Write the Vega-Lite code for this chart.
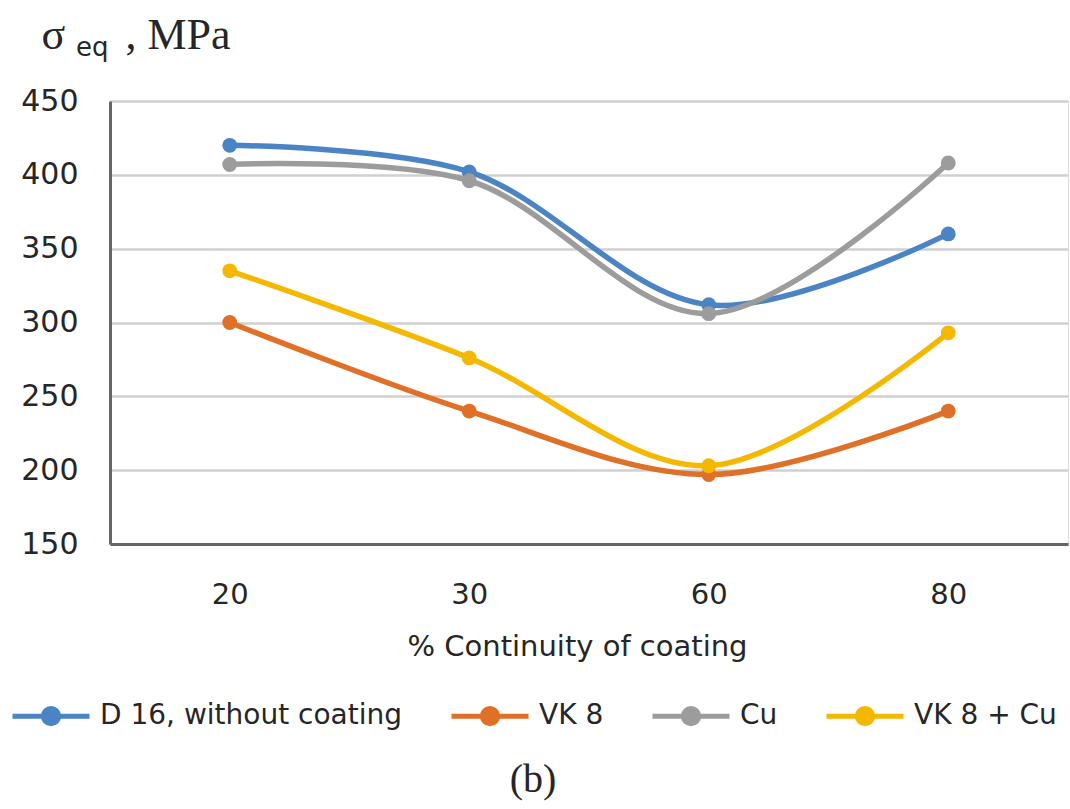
{
  "$schema": "https://vega.github.io/schema/vega-lite/v6.json",
  "width": 958,
  "height": 443,
  "autosize": "none",
  "padding": {"left": 110, "top": 101, "right": 2, "bottom": 265},
  "background": "white",
  "data": {
    "values": [
      {"x": "20", "y": 420, "series": "D 16, without coating"},
      {"x": "30", "y": 402, "series": "D 16, without coating"},
      {"x": "60", "y": 312, "series": "D 16, without coating"},
      {"x": "80", "y": 360, "series": "D 16, without coating"},
      {"x": "20", "y": 300, "series": "VK 8"},
      {"x": "30", "y": 240, "series": "VK 8"},
      {"x": "60", "y": 197, "series": "VK 8"},
      {"x": "80", "y": 240, "series": "VK 8"},
      {"x": "20", "y": 407, "series": "Cu"},
      {"x": "30", "y": 396, "series": "Cu"},
      {"x": "60", "y": 306, "series": "Cu"},
      {"x": "80", "y": 408, "series": "Cu"},
      {"x": "20", "y": 335, "series": "VK 8 + Cu"},
      {"x": "30", "y": 276, "series": "VK 8 + Cu"},
      {"x": "60", "y": 203, "series": "VK 8 + Cu"},
      {"x": "80", "y": 293, "series": "VK 8 + Cu"}
    ]
  },
  "title": {
    "text": "eq",
    "orient": "top",
    "anchor": "start",
    "frame": "group",
    "font": "DejaVu Sans",
    "fontSize": 26,
    "fontWeight": "normal",
    "color": "#262626",
    "dx": -34,
    "dy": 52
  },
  "encoding": {
    "x": {
      "field": "x",
      "type": "ordinal",
      "sort": ["20", "30", "60", "80"],
      "scale": {"type": "point", "padding": 0.5},
      "axis": {
        "labelAngle": 0,
        "labelFont": "DejaVu Sans",
        "labelFontSize": 29,
        "labelColor": "#262626",
        "labelPadding": 36,
        "ticks": false,
        "domain": true,
        "domainColor": "#666666",
        "domainWidth": 3,
        "grid": false,
        "title": "% Continuity of coating",
        "titleFont": "DejaVu Sans",
        "titleFontSize": 29,
        "titleFontWeight": "normal",
        "titleColor": "#262626",
        "titleAnchor": "start",
        "titleAlign": "center",
        "titleBaseline": "alphabetic",
        "titleX": 467,
        "titleY": 111
      }
    },
    "color": {
      "field": "series",
      "type": "nominal",
      "scale": {
        "domain": ["D 16, without coating", "VK 8", "Cu", "VK 8 + Cu"],
        "range": ["#4A84C4", "#E07028", "#9C9C9C", "#F5B800"]
      },
      "legend": {
        "orient": "none",
        "legendX": -100,
        "legendY": 574,
        "direction": "horizontal",
        "columns": 4,
        "title": "(b)",
        "titleOrient": "bottom",
        "titleAnchor": "middle",
        "titleFont": "Liberation Serif",
        "titleFontSize": 40,
        "titleFontWeight": "normal",
        "titleColor": "#262626",
        "titlePadding": 26,
        "labelFont": "DejaVu Sans",
        "labelFontSize": 28,
        "labelColor": "#262626",
        "labelOffset": 8,
        "labelLimit": 600,
        "columnPadding": 38,
        "symbolType": "M-1,0L1,0M0.2,0A0.2,0.2,0,1,1,-0.2,0A0.2,0.2,0,1,1,0.2,0Z",
        "symbolSize": 5929,
        "symbolStrokeWidth": 5,
        "encode": {
          "symbols": {
            "update": {
              "fill": {"scale": "color", "field": "value"},
              "stroke": {"scale": "color", "field": "value"},
              "strokeWidth": {"value": 5},
              "opacity": {"value": 1}
            }
          }
        }
      }
    }
  },
  "layer": [
    {
      "mark": {"type": "line", "interpolate": "catmull-rom", "strokeWidth": 5.5},
      "encoding": {
        "y": {
          "field": "y",
          "type": "quantitative",
          "scale": {"domain": [150, 450], "nice": false, "zero": false},
          "axis": {
            "orient": "left",
            "values": [150, 200, 250, 300, 350, 400, 450],
            "grid": true,
            "gridColor": "#d0d0d0",
            "gridWidth": 2.5,
            "labelFont": "DejaVu Sans",
            "labelFontSize": 30,
            "labelColor": "#262626",
            "labelPadding": 32,
            "ticks": false,
            "domain": true,
            "domainColor": "#666666",
            "domainWidth": 3,
            "title": "σ",
            "titleFont": "Liberation Serif",
            "titleFontSize": 44,
            "titleFontWeight": "normal",
            "titleColor": "#262626",
            "titleAngle": 0,
            "titleAlign": "left",
            "titleBaseline": "alphabetic",
            "titleX": -69,
            "titleY": -53
          }
        }
      }
    },
    {
      "mark": {"type": "point", "filled": true, "size": 220, "opacity": 1},
      "encoding": {
        "y": {
          "field": "y",
          "type": "quantitative",
          "scale": {"domain": [150, 450], "nice": false, "zero": false},
          "axis": {
            "orient": "right",
            "labels": false,
            "ticks": false,
            "domain": false,
            "grid": false,
            "title": ",\u00a0MPa",
            "titleFont": "Liberation Serif",
            "titleFontSize": 44,
            "titleFontWeight": "normal",
            "titleColor": "#262626",
            "titleAngle": 0,
            "titleAlign": "left",
            "titleBaseline": "alphabetic",
            "titleX": -943,
            "titleY": -53
          }
        }
      }
    }
  ],
  "resolve": {"axis": {"y": "independent"}}
}
